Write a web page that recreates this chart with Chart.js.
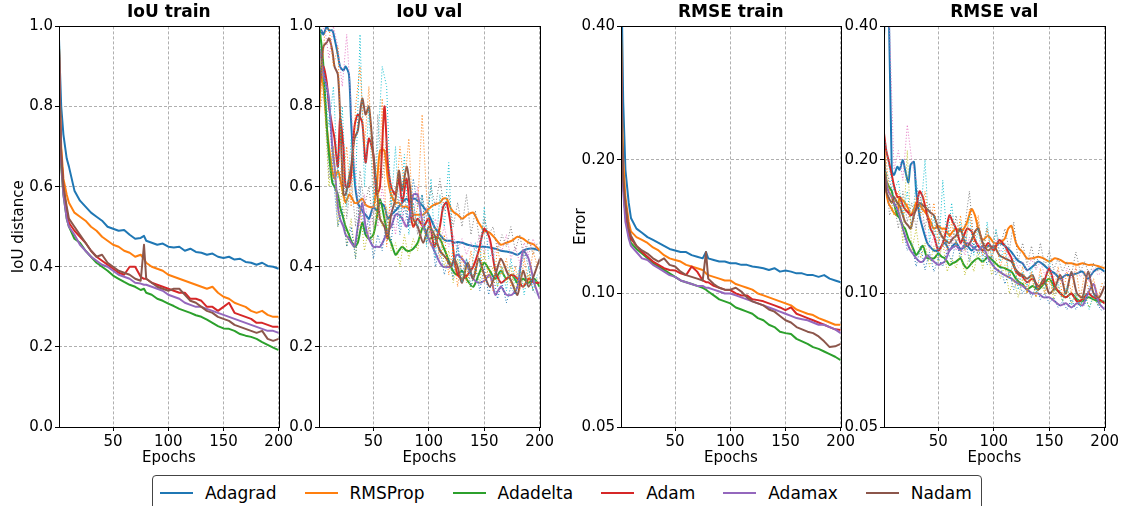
<!DOCTYPE html>
<html>
  <head>
    <meta charset="utf-8">
    <script src="https://cdn.jsdelivr.net/npm/chart.js@4.4.1/dist/chart.umd.min.js"></script>
    <style>
      body { margin: 0; background: #fff; width: 1121px; height: 506px; overflow: hidden; position: relative; }
      canvas { position: absolute; top: 0; }
      #legend {
        position: absolute; left: 152px; top: 475px; width: 830px; height: 40px;
        box-sizing: border-box; border: 1px solid #444; border-radius: 4px;
        display: flex; padding: 7px 0 0 7px;
        font-family: 'DejaVu Sans'; font-size: 17px; color: #000;
      }
      .item { display: flex; align-items: center; height: 20px; margin-right: 28px; }
      .swatch { width: 33px; height: 2px; margin-right: 12px; }
    </style>
  </head>
  <body>
    <canvas id="iouTrain" width="295" height="470" style="left:0px"></canvas>
    <canvas id="iouVal" width="277" height="470" style="left:279px"></canvas>
    <canvas id="rmseTrain" width="295" height="470" style="left:562px"></canvas>
    <canvas id="rmseVal" width="277" height="470" style="left:844px"></canvas>
    <div id="legend"></div>
    <script>
      const names = ['Adagrad', 'RMSProp', 'Adadelta', 'Adam', 'Adamax', 'Nadam'];
      const colors = ['#1f77b4', '#ff7f0e', '#2ca02c', '#d62728', '#9467bd', '#8c564b'];
      const rawColors = ['#e377c2', '#7f7f7f', '#bcbd22', '#17becf', '#1f77b4', '#ff7f0e'];

      const xTicks = [50, 100, 150, 200];
      const iouTicks = [0, 0.2, 0.4, 0.6, 0.8, 1.0];
      const rmseTicks = [0.05, 0.1, 0.2, 0.4];

      const trainEpochs = [1,2,3,5,8, 10,15,20,25,30, 35,40,45,50,55, 60,65,70,75,78,
        80,85,90,95,100, 105,110,115,120,125, 130,135,140,145,150, 155,160,165,170,175, 180,185,190,195,200];
      const valEpochs = [1,3,5,8,10, 13,15,18,20,23, 25,28,30,33,36, 40,43,46,50,53, 56,60,63,66,70,
        73,76,80,83,86, 90,95,100,105,110, 113,116,120,123,126, 130,135,140,145,150,
        155,160,165,170,175, 180,185,190,195,200];
      const rawEpochs = [2,6,10,14,18,22,26,30,34,38, 42,46,50,54,58,62,66,70,74,78,
        82,86,90,94,98,102,106,110,114,118, 122,126,130,134,138,142,146,150,154,158,
        162,166,170,174,178,182,186,190,194,198];

      // IoU train
      const iouTrainAdagrad = [.97,.88,.8,.73,.67, .65,.59,.565,.55,.535, .525,.515,.5,.495,.49, .492,.48,.47,.472,.477, .465,.46,.455,.458,.45, .448,.45,.44,.445,.437, .435,.43,.433,.425,.422, .425,.418,.42,.412,.41, .405,.41,.402,.4,.395];
      const iouTrainRMSProp = [.95,.8,.7,.62,.58, .56,.535,.525,.515,.5, .49,.475,.465,.455,.45, .44,.435,.425,.43,.42, .41,.4,.395,.39,.38, .375,.37,.365,.36,.355, .35,.345,.35,.335,.325, .32,.31,.305,.3,.29, .285,.29,.28,.275,.275];
      const iouTrainAdadelta = [.96,.75,.65,.58,.52, .5,.47,.46,.44,.425, .41,.4,.39,.378,.37, .362,.355,.35,.342,.345, .335,.33,.32,.315,.308, .302,.295,.29,.285,.279, .275,.268,.26,.252,.246, .245,.24,.232,.228,.225, .22,.212,.205,.198,.192];
      const iouTrainAdam = [.95,.78,.68,.6,.54, .51,.49,.475,.46,.44, .425,.415,.405,.395,.385, .38,.4,.4,.375,.37, .37,.36,.355,.35,.345, .34,.335,.335,.32,.32, .315,.3,.3,.29,.3, .31,.285,.28,.275,.27, .26,.26,.255,.25,.25];
      const iouTrainAdamax = [.94,.76,.66,.58,.52, .5,.48,.455,.44,.425, .415,.405,.4,.39,.38, .375,.37,.36,.358,.355, .355,.35,.345,.34,.33, .325,.32,.31,.305,.3, .3,.295,.29,.285,.28, .275,.27,.265,.26,.255, .25,.245,.24,.24,.235];
      const iouTrainNadam = [.95,.77,.68,.6,.55, .52,.5,.48,.46,.44, .425,.43,.41,.4,.39, .385,.38,.37,.365,.455, .37,.36,.35,.345,.34, .345,.345,.33,.315,.31, .3,.29,.285,.275,.27, .265,.255,.25,.245,.24, .235,.24,.22,.215,.22];

      // IoU val (smoothed)
      const iouValAdagrad = [.95,.99,.98,1.0,.99, .99,.97,.93,.9,.89, .9,.88,.76,.62,.56, .54,.53,.52,.55,.54, .56,.55,.52,.53,.54, .55,.56,.57,.56,.57, .565,.55,.53,.5,.48, .47,.465,.465,.46,.462, .46,.455,.452,.45,.45, .448,.445,.44,.438,.435, .43,.44,.445,.445,.44];
      const iouValRMSProp = [.78,.88,.85,.75,.7, .64,.62,.64,.62,.58, .56,.58,.575,.56,.56, .57,.555,.55,.55,.6, .69,.69,.62,.58,.56, .56,.55,.55,.54,.53, .53,.53,.545,.555,.56, .57,.57,.545,.535,.53, .52,.53,.535,.51,.49, .485,.47,.455,.46,.465, .475,.47,.46,.455,.44];
      const iouValAdadelta = [1.0,.96,.9,.75,.68, .61,.6,.58,.55,.52, .5,.48,.465,.45,.46, .51,.48,.47,.48,.52, .57,.52,.48,.46,.43, .44,.45,.44,.44,.445, .46,.5,.47,.475,.47, .45,.43,.4,.385,.38, .39,.365,.35,.38,.41, .39,.37,.39,.37,.38, .36,.37,.36,.37,.35];
      const iouValAdam = [.85,.88,.9,.86,.8, .75,.72,.65,.77,.7, .6,.6,.63,.75,.78, .76,.66,.72,.68,.58, .6,.8,.66,.6,.58, .62,.56,.62,.54,.5, .52,.5,.52,.45,.5, .55,.56,.5,.42,.38, .37,.38,.4,.44,.495, .47,.39,.36,.37,.38, .37,.35,.37,.36,.36];
      const iouValAdamax = [.95,.92,.88,.85,.82, .7,.65,.55,.52,.5, .48,.47,.46,.45,.5, .56,.5,.47,.45,.45, .45,.47,.49,.5,.53, .53,.52,.5,.53,.58, .58,.5,.47,.44,.41, .4,.4,.4,.42,.43, .42,.4,.37,.36,.365, .38,.33,.35,.33,.33, .35,.44,.42,.36,.32];
      const iouValNadam = [.82,.9,.95,.96,.97, .94,.9,.88,.78,.58, .58,.62,.65,.72,.74, .82,.78,.8,.68,.6, .52,.5,.47,.53,.57, .64,.59,.65,.6,.52, .5,.46,.5,.48,.44, .43,.42,.4,.42,.4, .36,.41,.37,.42,.38, .35,.38,.42,.39,.36, .33,.39,.35,.38,.42];

      // IoU val (raw, dotted)
      const iouRawAdagrad = [.98,1.0,.92,1.0,.95,.85,.98,.8,.62,.5, .58,.48,.56,.5,.6,.52,.55,.48,.58,.5, .56,.52,.6,.5,.55,.48,.52,.46,.5,.45, .48,.44,.47,.43,.46,.44,.48,.43,.47,.42, .46,.44,.48,.42,.45,.41,.46,.43,.47,.44];
      const iouRawRMSProp = [.8,.85,.62,.7,.55,.68,.52,.62,.5,.64, .55,.6,.5,.78,.62,.72,.55,.6,.52,.58, .5,.56,.48,.58,.52,.6,.55,.62,.54,.58, .5,.56,.5,.58,.48,.54,.46,.52,.48,.5, .44,.48,.45,.5,.44,.48,.42,.47,.43,.46];
      const iouRawAdadelta = [.95,.8,.6,.7,.5,.6,.45,.52,.42,.55, .44,.5,.46,.6,.5,.55,.44,.46,.4,.48, .42,.47,.44,.52,.46,.5,.45,.5,.4,.44, .36,.42,.37,.4,.34,.4,.36,.44,.37,.4, .35,.4,.36,.4,.34,.39,.35,.38,.34,.37];
      const iouRawAdam = [.9,.85,.75,.85,.62,.8,.55,.72,.6,.98, .6,.8,.55,.7,.9,.85,.55,.7,.5,.68, .48,.56,.5,.58,.45,.62,.42,.58,.5,.66, .4,.45,.36,.42,.38,.46,.4,.55,.42,.44, .35,.4,.34,.42,.36,.4,.33,.4,.34,.38];
      const iouRawAdamax = [.95,.88,.8,.62,.5,.55,.45,.5,.42,.6, .48,.52,.42,.48,.44,.52,.46,.56,.48,.55, .5,.62,.55,.58,.46,.5,.4,.45,.38,.42, .37,.46,.38,.42,.35,.4,.34,.4,.33,.38, .32,.36,.31,.35,.33,.38,.44,.4,.34,.33];
      const iouRawNadam = [.8,.98,1.0,.9,.95,.6,.7,.55,.8,.9, .7,.85,.6,.52,.82,.45,.6,.55,.7,.6, .72,.5,.55,.78,.58,.45,.5,.42,.48,.38, .45,.35,.43,.36,.44,.38,.45,.36,.4,.34, .45,.38,.42,.35,.4,.34,.42,.36,.44,.4];

      // RMSE train
      const rmseTrainAdagrad = [.6,.4,.27,.19,.16, .148,.14,.137,.134,.132, .13,.128,.126,.125,.124, .124,.122,.121,.12,.124, .12,.119,.118,.118,.117, .117,.116,.116,.115,.1146, .114,.113,.114,.112,.1127, .112,.111,.111,.11,.11, .109,.11,.108,.107,.106];
      const rmseTrainRMSProp = [.4,.25,.2,.165,.145, .138,.134,.132,.13,.127, .125,.122,.12,.119,.118, .116,.115,.114,.113,.111, .11,.109,.108,.107,.107, .105,.104,.103,.102,.1, .099,.098,.097,.096,.095, .094,.092,.091,.09,.0894, .088,.087,.086,.085,.085];
      const rmseTrainAdadelta = [.38,.22,.18,.15,.135, .13,.126,.123,.12,.117, .115,.113,.111,.109,.107, .106,.105,.104,.103,.102, .101,.099,.097,.096,.095, .093,.092,.091,.09,.088, .087,.085,.084,.082,.0814, .081,.079,.078,.077,.0757, .075,.074,.073,.072,.0707];
      const rmseTrainAdam = [.38,.22,.18,.15,.138, .133,.128,.124,.121,.118, .116,.114,.113,.1127,.111, .11,.115,.112,.107,.106, .106,.104,.103,.102,.1018, .1,.099,.099,.097,.0966, .096,.095,.094,.093,.0917, .093,.09,.089,.088,.087, .086,.085,.084,.083,.0827];
      const rmseTrainAdamax = [.36,.21,.17,.145,.133, .128,.124,.12,.119,.116, .114,.112,.11,.109,.107, .106,.105,.104,.104,.103, .103,.102,.101,.1,.1, .099,.098,.097,.096,.095, .094,.093,.092,.091,.09, .089,.088,.0875,.087,.086, .085,.085,.084,.083,.0814];
      const rmseTrainNadam = [.38,.22,.18,.16,.14, .135,.128,.125,.123,.12, .118,.12,.116,.115,.112, .11,.109,.108,.107,.124, .108,.105,.103,.102,.102, .103,.101,.098,.096,.095, .094,.092,.091,.089,.087, .086,.084,.083,.082,.0814, .08,.078,.0757,.076,.077];

      // RMSE val (smoothed)
      const rmseValAdagrad = [.38,.5,.48,.19,.185, .193,.19,.2,.19,.178, .195,.198,.17,.15,.14, .13,.127,.125,.125,.128, .13,.125,.128,.13,.126, .127,.128,.125,.127,.128, .125,.128,.127,.13,.128, .126,.124,.12,.118,.117, .113,.115,.118,.116,.113, .111,.108,.11,.11,.111, .112,.108,.112,.114,.112];
      const rmseValRMSProp = [.22,.17,.16,.155,.152, .15,.165,.162,.16,.155, .15,.155,.16,.158,.155, .15,.145,.14,.142,.14, .14,.135,.138,.14,.138, .14,.145,.155,.15,.14, .132,.135,.13,.13,.133, .14,.142,.13,.126,.124, .12,.12,.121,.12,.118, .12,.119,.117,.117,.116, .117,.116,.116,.115,.114];
      const rmseValAdadelta = [.2,.18,.175,.17,.16, .15,.148,.142,.14,.133, .13,.125,.122,.125,.128, .12,.12,.12,.123,.121, .12,.116,.117,.118,.12, .116,.114,.117,.119,.12, .118,.121,.118,.115,.114, .113,.112,.108,.106,.105, .102,.104,.102,.105,.108, .103,.1,.098,.1,.097, .096,.098,.097,.096,.096];
      const rmseValAdam = [.23,.21,.2,.185,.175, .165,.165,.158,.155,.152, .15,.152,.155,.17,.165, .15,.14,.135,.125,.128, .135,.15,.145,.14,.13, .135,.14,.138,.132,.128, .125,.13,.125,.132,.128, .124,.12,.112,.11,.109, .106,.108,.104,.106,.114, .104,.1,.098,.1,.096, .097,.1,.098,.097,.095];
      const rmseValAdamax = [.19,.18,.17,.165,.16, .155,.15,.14,.135,.128, .125,.122,.12,.118,.118, .122,.12,.118,.116,.117, .118,.125,.127,.128,.125, .128,.13,.128,.126,.125, .128,.12,.115,.112,.11, .109,.108,.106,.105,.104, .102,.1,.1,.098,.098, .096,.094,.095,.093,.095, .094,.1,.105,.095,.092];
      const rmseValNadam = [.21,.17,.165,.16,.165, .16,.158,.15,.145,.142, .14,.15,.155,.16,.158, .155,.152,.15,.14,.135, .132,.13,.133,.135,.14, .132,.128,.132,.138,.14, .13,.125,.128,.122,.12, .119,.118,.113,.111,.11, .108,.11,.102,.108,.1, .103,.11,.1,.112,.1, .098,.112,.1,.098,.104];

      // RMSE val (raw, dotted)
      const rmseRawAdagrad = [.45,.4,.19,.21,.18,.24,.2,.18,.15,.14, .125,.135,.12,.13,.122,.135,.125,.13,.122,.134, .124,.13,.122,.128,.125,.132,.124,.128,.12,.122, .114,.118,.112,.12,.113,.118,.11,.116,.109,.113, .106,.114,.108,.114,.109,.112,.106,.114,.11,.112];
      const rmseRawRMSProp = [.2,.15,.16,.14,.17,.145,.16,.14,.165,.14, .16,.135,.15,.13,.145,.128,.15,.13,.142,.17, .13,.145,.128,.14,.125,.138,.128,.14,.125,.145, .118,.13,.116,.128,.114,.13,.115,.125,.113,.12, .112,.118,.11,.124,.112,.118,.11,.117,.112,.116];
      const rmseRawAdadelta = [.19,.17,.15,.165,.13,.21,.125,.14,.12,.13, .115,.128,.118,.13,.112,.12,.114,.125,.11,.122, .112,.126,.114,.128,.11,.12,.108,.116,.1,.108, .098,.108,.1,.11,.098,.106,.1,.112,.097,.104, .096,.102,.095,.1,.094,.1,.093,.098,.094,.097];
      const rmseRawAdam = [.22,.19,.17,.18,.15,.17,.14,.18,.15,.2, .13,.15,.12,.18,.13,.16,.128,.145,.125,.15, .122,.14,.118,.145,.12,.14,.118,.13,.108,.12, .102,.112,.104,.115,.1,.11,.102,.12,.1,.106, .096,.104,.094,.1,.093,.1,.092,.1,.094,.096];
      const rmseRawAdamax = [.19,.18,.165,.15,.14,.125,.13,.115,.128,.113, .124,.112,.12,.115,.125,.118,.132,.12,.135,.118, .13,.122,.128,.116,.122,.11,.115,.105,.112,.102, .108,.1,.104,.098,.104,.097,.1,.095,.098,.093, .096,.092,.097,.092,.096,.094,.104,.1,.094,.091];
      const rmseRawNadam = [.21,.17,.16,.17,.15,.16,.14,.165,.15,.17, .14,.16,.13,.14,.125,.145,.128,.15,.125,.155, .13,.15,.122,.14,.12,.13,.115,.125,.108,.118, .104,.115,.1,.112,.098,.114,.1,.108,.1,.115, .098,.112,.1,.115,.097,.112,.1,.108,.098,.106];

      Chart.defaults.font.family = 'DejaVu Sans';
      Chart.defaults.font.size = 15;
      Chart.defaults.color = '#000';

      function points(epochs, values) {
        return epochs.map((e, i) => ({x: e, y: values[i]}));
      }

      // black box round the plot area, like matplotlib spines
      const frame = {
        id: 'frame',
        afterDraw(chart) {
          const {ctx, chartArea: a} = chart;
          ctx.save();
          ctx.strokeStyle = '#000';
          ctx.lineWidth = 1;
          ctx.strokeRect(Math.round(a.left) + 0.5, Math.round(a.top) + 0.5,
            Math.round(a.right - a.left), Math.round(a.bottom - a.top));
          ctx.restore();
        }
      };

      function makePanel(id, opts) {
        const sets = [];
        opts.solid.forEach((vals, i) => {
          sets.push({
            data: points(opts.solidEpochs, vals),
            borderColor: colors[i], borderWidth: 2, tension: opts.tension,
            pointRadius: 0, borderJoinStyle: 'round'
          });
        });
        (opts.raw || []).forEach((vals, i) => {
          sets.push({
            data: points(rawEpochs, vals),
            borderColor: rawColors[i], borderWidth: 1, borderDash: [1, 2],
            pointRadius: 0, tension: 0
          });
        });
        // later series on top, as in matplotlib
        sets.reverse();

        const gridOpts = {
          color: '#9a9a9a', lineWidth: 0.8, drawTicks: true, tickLength: 4,
          tickColor: '#000', tickWidth: 1, tickBorderDash: []
        };

        new Chart(document.getElementById(id), {
          type: 'line',
          data: {datasets: sets},
          options: {
            responsive: false,
            animation: false,
            devicePixelRatio: 1,
            layout: {padding: {left: 0, right: opts.right, top: 0, bottom: 0}},
            plugins: {
              legend: {display: false},
              tooltip: {enabled: false},
              title: {
                display: true, text: opts.title, fullSize: false, color: '#000',
                font: {size: 17, weight: 'bold'}, padding: {top: 2, bottom: 4}
              }
            },
            scales: {
              x: {
                type: 'linear', min: 1, max: 200,
                afterBuildTicks: s => { s.ticks = xTicks.map(v => ({value: v})); },
                afterFit: s => { s.height = 43; },
                ticks: {autoSkip: false, maxRotation: 0, padding: 2, color: '#000'},
                grid: gridOpts,
                border: {display: false, dash: [3, 2]},
                title: {display: true, text: 'Epochs', color: '#000', padding: {top: 0, bottom: 3}}
              },
              y: {
                type: opts.yType, min: opts.yMin, max: opts.yMax,
                afterBuildTicks: s => { s.ticks = opts.yTicks.map(v => ({value: v})); },
                afterFit: s => { s.width = opts.yWidth; },
                ticks: {
                  autoSkip: false, padding: 2, color: '#000',
                  callback: v => Number(v).toFixed(opts.digits)
                },
                grid: gridOpts,
                border: {display: false, dash: [3, 2]},
                title: {
                  display: !!opts.yTitle, text: opts.yTitle || '', color: '#000',
                  padding: {top: 10, bottom: 0}
                }
              }
            }
          },
          plugins: [frame]
        });
      }

      makePanel('iouTrain', {
        title: 'IoU train', yTitle: 'IoU distance', yType: 'linear', yMin: 0, yMax: 1,
        yTicks: iouTicks, digits: 1, yWidth: 59, right: 15, tension: 0,
        solidEpochs: trainEpochs,
        solid: [iouTrainAdagrad, iouTrainRMSProp, iouTrainAdadelta, iouTrainAdam, iouTrainAdamax, iouTrainNadam]
      });
      makePanel('iouVal', {
        title: 'IoU val', yType: 'linear', yMin: 0, yMax: 1,
        yTicks: iouTicks, digits: 1, yWidth: 40, right: 15, tension: 0.25,
        solidEpochs: valEpochs,
        solid: [iouValAdagrad, iouValRMSProp, iouValAdadelta, iouValAdam, iouValAdamax, iouValNadam],
        raw: [iouRawAdagrad, iouRawRMSProp, iouRawAdadelta, iouRawAdam, iouRawAdamax, iouRawNadam]
      });
      makePanel('rmseTrain', {
        title: 'RMSE train', yTitle: 'Error', yType: 'logarithmic', yMin: 0.05, yMax: 0.4,
        yTicks: rmseTicks, digits: 2, yWidth: 59, right: 15, tension: 0,
        solidEpochs: trainEpochs,
        solid: [rmseTrainAdagrad, rmseTrainRMSProp, rmseTrainAdadelta, rmseTrainAdam, rmseTrainAdamax, rmseTrainNadam]
      });
      makePanel('rmseVal', {
        title: 'RMSE val', yType: 'logarithmic', yMin: 0.05, yMax: 0.4,
        yTicks: rmseTicks, digits: 2, yWidth: 40, right: 16, tension: 0.25,
        solidEpochs: valEpochs,
        solid: [rmseValAdagrad, rmseValRMSProp, rmseValAdadelta, rmseValAdam, rmseValAdamax, rmseValNadam],
        raw: [rmseRawAdagrad, rmseRawRMSProp, rmseRawAdadelta, rmseRawAdam, rmseRawAdamax, rmseRawNadam]
      });

      // legend under the panels
      const legend = document.getElementById('legend');
      names.forEach((n, i) => {
        const item = document.createElement('div');
        item.className = 'item';
        item.innerHTML = '<span class="swatch" style="background:' + colors[i] + '"></span><span>' + n + '</span>';
        legend.appendChild(item);
      });
    </script>
  </body>
</html>
